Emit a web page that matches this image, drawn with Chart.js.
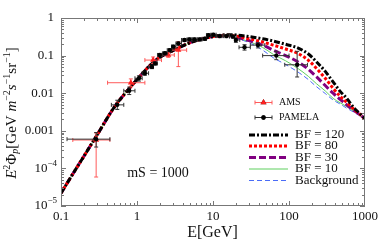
<!DOCTYPE html>
<html>
<head>
<meta charset="utf-8">
<script src="https://cdn.jsdelivr.net/npm/chart.js@4.4.1/dist/chart.umd.min.js"></script>
<style>
  body { margin: 0; background: #fff; }
</style>
</head>
<body>
<canvas id="flux" width="382" height="247"></canvas>
<script>
// energy grid for the model curves (GeV)
const energy = [0.1, 0.15, 0.2, 0.3, 0.5, 0.7, 1, 1.5, 2, 3, 5, 7, 10, 15, 20, 30, 45, 62, 90, 130, 180, 229, 300, 380, 475, 575, 700, 850, 1000];
const bf120 = [2.2e-5, 8.3e-5, 2.1e-4, 7.9e-4, 0.0042, 0.010, 0.023, 0.056, 0.091, 0.138, 0.22, 0.275, 0.32, 0.36, 0.355, 0.32, 0.28, 0.245, 0.20, 0.16, 0.11, 0.069, 0.038, 0.020, 0.011, 0.0073, 0.0043, 0.0029, 0.0021];
const bf80 = [2.2e-5, 8.3e-5, 2.1e-4, 7.9e-4, 0.0042, 0.010, 0.023, 0.056, 0.091, 0.138, 0.22, 0.275, 0.32, 0.35, 0.33, 0.28, 0.23, 0.19, 0.15, 0.115, 0.075, 0.046, 0.025, 0.0135, 0.0082, 0.0057, 0.0039, 0.0028, 0.0021];
const bf30 = [2.2e-5, 8.3e-5, 2.1e-4, 7.9e-4, 0.0042, 0.010, 0.023, 0.056, 0.091, 0.138, 0.22, 0.275, 0.32, 0.34, 0.31, 0.25, 0.19, 0.14, 0.10, 0.069, 0.043, 0.0275, 0.016, 0.010, 0.0068, 0.0049, 0.0036, 0.0027, 0.0021];
const bf10 = [2.2e-5, 8.3e-5, 2.1e-4, 7.9e-4, 0.0042, 0.010, 0.023, 0.056, 0.091, 0.138, 0.22, 0.275, 0.32, 0.335, 0.30, 0.235, 0.165, 0.108, 0.073, 0.046, 0.028, 0.018, 0.0115, 0.0073, 0.0055, 0.0044, 0.0034, 0.0026, 0.0021];
const background = [2.2e-5, 8.3e-5, 2.1e-4, 7.9e-4, 0.0042, 0.010, 0.023, 0.056, 0.091, 0.138, 0.22, 0.275, 0.32, 0.33, 0.29, 0.22, 0.14, 0.088, 0.058, 0.037, 0.023, 0.015, 0.0098, 0.0066, 0.0051, 0.0040, 0.0032, 0.0025, 0.0021];

// PAMELA points
const pamE   = [0.29, 0.55, 0.79, 1.06, 1.27, 1.57, 1.73, 2.0, 2.33, 2.7, 3.0, 3.5, 4.2, 4.9, 5.7, 6.7, 7.8, 8.7, 10.1, 12.3, 15, 18.3, 20, 26, 39, 68, 128];
const pamF   = [6.0e-4, 0.0049, 0.0116, 0.025, 0.034, 0.05, 0.062, 0.104, 0.115, 0.14, 0.173, 0.21, 0.26, 0.27, 0.27, 0.27, 0.28, 0.35, 0.36, 0.33, 0.33, 0.32, 0.26, 0.166, 0.19, 0.10, 0.057];
const pamElo = [0.12, 0.46, 0.67, 0.94, 1.17, 1.42, 1.65, 1.86, 2.16, 2.5, 2.85, 3.25, 3.85, 4.55, 5.3, 6.2, 7.2, 8.2, 9.4, 11, 13.6, 16.5, 19.2, 22, 31, 45, 88];
const pamEhi = [0.44, 0.67, 0.94, 1.17, 1.42, 1.65, 1.86, 2.16, 2.5, 2.85, 3.25, 3.85, 4.55, 5.3, 6.2, 7.2, 8.2, 9.4, 11, 13.6, 16.5, 19.2, 22.5, 31, 48, 100, 175];
const pamFlo = [3.7e-4, 0.0037, 0.0092, 0.021, 0.030, 0.045, 0.056, 0.094, 0.104, 0.127, 0.157, 0.19, 0.236, 0.245, 0.245, 0.245, 0.255, 0.32, 0.33, 0.30, 0.30, 0.29, 0.225, 0.14, 0.16, 0.078, 0.027];
const pamFhi = [9.0e-4, 0.0065, 0.0145, 0.029, 0.038, 0.055, 0.068, 0.114, 0.126, 0.153, 0.19, 0.23, 0.285, 0.295, 0.295, 0.295, 0.305, 0.38, 0.39, 0.36, 0.36, 0.35, 0.295, 0.195, 0.22, 0.13, 0.13];

// AMS points
const amsE   = [0.29, 0.83, 1.63, 2.58, 3.5];
const amsF   = [5.7e-4, 0.019, 0.076, 0.104, 0.14];
const amsElo = [0.143, 0.41, 1.27, 2.1, 2.8];
const amsEhi = [0.44, 1.27, 2.1, 3.1, 4.5];
const amsFlo = [5.9e-5, 0.015, 0.062, 0.09, 0.051];
const amsFhi = [8.7e-4, 0.024, 0.092, 0.12, 0.234];

const xTicks = [0.1, 1, 10, 100, 1000];
const xTickLabels = ['0.1', '1', '10', '100', '1000'];
const yTicks = [1, 0.1, 0.01, 0.001, 1e-4, 1e-5];
const yTickLabels = ['1', '0.1', '0.01', '0.001', '10^-4', '10^-5'];

const serif = '"Liberation Serif", "DejaVu Serif", serif';

function pts(xs, ys) {
  return xs.map((e, i) => ({x: e, y: ys[i]}));
}

// draws text made of pieces: [text, size, italic, baseline shift]
function richText(ctx, parts, x, y, align) {
  let w = 0;
  parts.forEach(p => {
    ctx.font = (p[2] ? 'italic ' : '') + p[1] + 'px ' + serif;
    w += ctx.measureText(p[0]).width;
  });
  let cx = align == 'right' ? x - w : (align == 'center' ? x - w / 2 : x);
  parts.forEach(p => {
    ctx.font = (p[2] ? 'italic ' : '') + p[1] + 'px ' + serif;
    ctx.fillText(p[0], cx, y + p[3]);
    cx += ctx.measureText(p[0]).width;
  });
}

function errBars(chart, xs, ys, elo, ehi, flo, fhi, color) {
  const ctx = chart.ctx, sx = chart.scales.x, sy = chart.scales.y;
  ctx.save();
  ctx.strokeStyle = color;
  ctx.lineWidth = 1;
  ctx.beginPath();
  for (let i = 0; i < xs.length; i++) {
    const px = sx.getPixelForValue(xs[i]), py = sy.getPixelForValue(ys[i]);
    const x1 = sx.getPixelForValue(elo[i]), x2 = sx.getPixelForValue(ehi[i]);
    const y1 = sy.getPixelForValue(flo[i]), y2 = sy.getPixelForValue(fhi[i]);
    ctx.moveTo(x1, py); ctx.lineTo(x2, py);
    ctx.moveTo(x1, py - 2); ctx.lineTo(x1, py + 2);
    ctx.moveTo(x2, py - 2); ctx.lineTo(x2, py + 2);
    ctx.moveTo(px, y1); ctx.lineTo(px, y2);
    ctx.moveTo(px - 2, y1); ctx.lineTo(px + 2, y1);
    ctx.moveTo(px - 2, y2); ctx.lineTo(px + 2, y2);
  }
  ctx.stroke();
  ctx.restore();
}

const errorPlugin = {
  id: 'errorbars',
  beforeDatasetDraw(chart, args) {
    if (args.index == 0) errBars(chart, pamE, pamF, pamElo, pamEhi, pamFlo, pamFhi, '#333');
    if (args.index == 1) errBars(chart, amsE, amsF, amsElo, amsEhi, amsFlo, amsFhi, '#ff5a5a');
  }
};

const framePlugin = {
  id: 'frame',
  afterDraw(chart) {
    const {ctx, chartArea: a, scales: {x, y}} = chart;
    ctx.save();
    ctx.strokeStyle = '#777';
    ctx.lineWidth = 1;
    ctx.strokeRect(a.left + 0.5, a.top + 0.5, a.right - a.left - 1, a.bottom - a.top - 1);
    ctx.beginPath();
    for (let d = -1; d < 3; d++) {
      for (let m = 1; m < 10; m++) {
        const px = Math.round(x.getPixelForValue(m * Math.pow(10, d))) + 0.5;
        const len = m == 1 ? 5 : 3;
        ctx.moveTo(px, a.bottom); ctx.lineTo(px, a.bottom - len);
        ctx.moveTo(px, a.top); ctx.lineTo(px, a.top + len);
      }
    }
    for (let d = -5; d < 0; d++) {
      for (let m = 1; m < 10; m++) {
        const py = Math.round(y.getPixelForValue(m * Math.pow(10, d))) + 0.5;
        const len = m == 1 ? 5 : 3;
        ctx.moveTo(a.left, py); ctx.lineTo(a.left + len, py);
        ctx.moveTo(a.right, py); ctx.lineTo(a.right - len, py);
      }
    }
    ctx.stroke();

    ctx.fillStyle = '#111';
    ctx.textBaseline = 'middle';
    ctx.textAlign = 'left';
    xTicks.forEach((v, i) => {
      richText(ctx, [[xTickLabels[i], 13, false, 0]], x.getPixelForValue(v), a.bottom + 11, 'center');
    });
    yTicks.forEach((v, i) => {
      const lab = yTickLabels[i];
      const py = y.getPixelForValue(v);
      if (lab.indexOf('^') > 0) {
        const s = lab.split('^');
        richText(ctx, [[s[0], 13, false, 0], [s[1].replace('-', '\u2212'), 9, false, -5]], a.left - 4, py, 'right');
      } else {
        richText(ctx, [[lab, 13, false, 0]], a.left - 7, py, 'right');
      }
    });

    // axis titles
    richText(ctx, [['E[GeV]', 16, false, 0]], (a.left + a.right) / 2 - 0.5, 233, 'center');
    ctx.save();
    ctx.translate(12, (a.top + a.bottom) / 2 + 1);
    ctx.rotate(-Math.PI / 2);
    richText(ctx, [['E', 15, true, 0], ['2', 10, false, -5], ['\u03A6', 15, false, 0], ['p', 10, true, 3],
      ['[GeV ', 15, false, 0], ['m', 15, true, 0], ['\u22122', 10, false, -5], ['s', 15, true, 0],
      ['\u22121', 10, false, -5], ['sr', 15, false, 0], ['\u22121', 10, false, -5], [']', 15, false, 0]], 0, 0, 'center');
    ctx.restore();

    richText(ctx, [['mS = 1000', 14, false, 0]], 158, 173, 'center');

    // legend: data markers
    const marks = [[1, 'AMS', 102.5], [0, 'PAMELA', 117.5]];
    marks.forEach(mk => {
      const ds = chart.data.datasets[mk[0]];
      const col = mk[0] == 1 ? '#ff5a5a' : '#333';
      ctx.strokeStyle = col;
      ctx.beginPath();
      ctx.moveTo(255, mk[2]); ctx.lineTo(272, mk[2]);
      ctx.moveTo(255, mk[2] - 2); ctx.lineTo(255, mk[2] + 2);
      ctx.moveTo(272, mk[2] - 2); ctx.lineTo(272, mk[2] + 2);
      ctx.stroke();
      Chart.helpers.drawPoint(ctx, {pointStyle: ds.pointStyle, radius: ds.pointRadius, borderWidth: 0}, 263.5, mk[2]);
      ctx.fillStyle = ds.backgroundColor;
      ctx.fill();
      ctx.fillStyle = '#111';
      richText(ctx, [[mk[1], 10, false, 0]], 279, mk[2], 'left');
    });

    // legend: model curves
    const rows = [[2, 'BF = 120', 135], [3, 'BF = 80', 146], [4, 'BF = 30', 157.5], [5, 'BF = 10', 169], [6, 'Background', 180.5]];
    rows.forEach(r => {
      const ds = chart.data.datasets[r[0]];
      ctx.save();
      ctx.strokeStyle = ds.borderColor;
      ctx.lineWidth = ds.borderWidth;
      ctx.setLineDash(ds.borderDash || []);
      ctx.beginPath();
      ctx.moveTo(249, r[2]); ctx.lineTo(288, r[2]);
      ctx.stroke();
      ctx.restore();
      ctx.fillStyle = '#111';
      richText(ctx, [[r[1], 13, false, 0]], 295, r[2], 'left');
    });
    ctx.restore();
  }
};

function curve(label, data, color, width, dash) {
  return {
    label: label,
    data: pts(energy, data),
    borderColor: color,
    borderWidth: width,
    borderDash: dash,
    pointRadius: 0,
    fill: false,
    cubicInterpolationMode: 'monotone'
  };
}

new Chart(document.getElementById('flux'), {
  type: 'line',
  data: {
    datasets: [
      {label: 'PAMELA', data: pts(pamE, pamF), showLine: false, pointStyle: 'circle', pointRadius: 2.2,
        backgroundColor: '#000', borderColor: '#000', borderWidth: 0},
      {label: 'AMS', data: pts(amsE, amsF), showLine: false, pointStyle: 'triangle', pointRadius: 3.5,
        backgroundColor: '#ff2020', borderColor: '#ff2020', borderWidth: 0},
      curve('BF = 120', bf120, '#000000', 3, [6, 2, 2, 2]),
      curve('BF = 80', bf80, '#ff0000', 3, [3, 2]),
      curve('BF = 30', bf30, '#800080', 3, [7, 3]),
      curve('BF = 10', bf10, '#5fcf5f', 1, []),
      curve('Background', background, '#4a6cf7', 1, [5, 3])
    ]
  },
  options: {
    responsive: false,
    animation: false,
    layout: {padding: {left: 61, right: 17, top: 18, bottom: 41}},
    plugins: {legend: {display: false}, tooltip: {enabled: false}},
    scales: {
      x: {type: 'logarithmic', min: 0.1, max: 1000, display: false},
      y: {type: 'logarithmic', min: 1e-5, max: 1, display: false}
    }
  },
  plugins: [errorPlugin, framePlugin]
});
</script>
</body>
</html>
